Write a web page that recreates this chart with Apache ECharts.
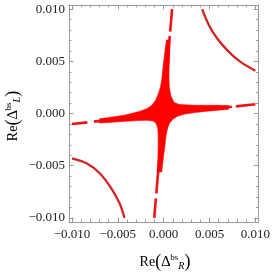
<!DOCTYPE html>
<html><head><meta charset="utf-8">
<script src="https://cdn.jsdelivr.net/npm/echarts@6/dist/echarts.min.js"></script>
<style>html,body{margin:0;padding:0;background:#fff}#c{width:273px;height:273px}</style>
</head><body><div id="c"></div>
<script>
// ---- axis ranges and ticks ----
const xRange = [-0.01032, 0.01032];
const yRange = [-0.0104, 0.0104];
const majorTicks = [-0.01, -0.005, 0, 0.005, 0.01];
const minorTicks = [-0.009, -0.008, -0.007, -0.006, -0.004, -0.003, -0.002, -0.001,
                    0.001, 0.002, 0.003, 0.004, 0.006, 0.007, 0.008, 0.009];

// ---- hyperbola-like curves ----
const curveUpperRight = [[0.0042, 0.0100], [0.00492, 0.00849], [0.00582, 0.00721],
                         [0.00708, 0.00593], [0.00834, 0.00497], [0.0100, 0.0041]];
const curveLowerLeft = [[-0.0100, -0.0043], [-0.00841, -0.00477], [-0.00697, -0.00573],
                        [-0.00571, -0.00717], [-0.00481, -0.00861], [-0.00427, -0.0100]];

// ---- thin arms along the axes (segments, gaps between them) ----
const armHorizontal = [
  [[-0.0100, -0.00101], [-0.00832, -0.00085]],
  [[-0.00760, -0.00078], [-0.00560, -0.00059]],
  [[-0.00525, -0.00056], [0.00744, 0.00064]],
  [[0.00787, 0.00068], [0.0100, 0.00088]]
];
const armVertical = [
  [[0.00092, 0.0100], [0.000709, 0.00784]],
  [[0.000669, 0.00743], [-0.000801, -0.00765]],
  [[-0.000848, -0.00813], [-0.00103, -0.0100]]
];

// ---- central filled star region outline ----
const starOutline = [
  [-0.006973, -0.000508], [-0.005568, -0.000336], [-0.004162, -0.000144], [-0.002649, 0.000192],
  [-0.001784, 0.000479], [-0.001243, 0.000815], [-0.000865, 0.001294], [-0.000541, 0.001965],
  [-0.000324, 0.002637], [-0.000184, 0.003404], [-0.000076, 0.004362], [0.000054, 0.005321],
  [0.000184, 0.006280], [0.000303, 0.007047], [0.000649, 0.007047], [0.000681, 0.006280],
  [0.000649, 0.005321], [0.000595, 0.004362], [0.000573, 0.003404], [0.000627, 0.002445],
  [0.000789, 0.001678], [0.001135, 0.001055], [0.001676, 0.000863], [0.002324, 0.000834],
  [0.003405, 0.000786], [0.004703, 0.000786], [0.006000, 0.000786], [0.007081, 0.000757],
  [0.007081, 0.000403], [0.006000, 0.000316], [0.004703, 0.000221], [0.003405, 0.000096],
  [0.002324, -0.000048], [0.001568, -0.000240], [0.001027, -0.000527], [0.000649, -0.000911],
  [0.000432, -0.001390], [0.000270, -0.002061], [0.000141, -0.003020], [0.000000, -0.003979],
  [-0.000130, -0.004938], [-0.000216, -0.005609], [-0.000703, -0.005609], [-0.000649, -0.004938],
  [-0.000616, -0.003979], [-0.000595, -0.003020], [-0.000595, -0.002061], [-0.000649, -0.001390],
  [-0.000811, -0.000959], [-0.001135, -0.000719], [-0.001784, -0.000652], [-0.002649, -0.000671],
  [-0.004162, -0.000748], [-0.005568, -0.000834], [-0.006973, -0.000911]
];

const frameColor = '#9a9a9a';
const labelFont = 'Liberation Serif';
const fmt = v => (v < 0 ? '\u2212' : '') + Math.abs(v).toFixed(3);

function axis(range, position, ticks, tickLen, showLine, showLabel) {
  return {
    type: 'value', position: position, min: range[0], max: range[1],
    axisLine: { show: showLine, onZero: false, lineStyle: { color: frameColor, width: 1 } },
    axisTick: { show: true, inside: true, length: tickLen, customValues: ticks,
                lineStyle: { color: frameColor, width: 1 } },
    axisLabel: { show: showLabel, customValues: ticks, formatter: fmt,
                 fontFamily: labelFont, fontSize: 13, color: '#222',
                 margin: (position === 'bottom' ? 6 : 4) },
    splitLine: { show: false }
  };
}

const series = [];
armHorizontal.concat(armVertical).forEach(seg => {
  series.push({ type: 'line', data: seg, showSymbol: false, silent: true, z: 2,
                lineStyle: { color: '#ee1414', width: 2.6 } });
});
series.push({
  type: 'custom', data: [[0, 0]], silent: true, z: 3,
  renderItem: (params, api) => ({
    type: 'polygon',
    shape: { points: starOutline.map(p => api.coord(p)) },
    style: { fill: '#ff0000', stroke: '#ff0000', lineWidth: 0.6 }
  })
});
[curveUpperRight, curveLowerLeft].forEach(c => {
  series.push({ type: 'line', data: c, smooth: 0.35, showSymbol: false, silent: true, z: 4,
                lineStyle: { color: '#d42323', width: 2.3 } });
});

const rich = {
  n: { fontFamily: labelFont, fontSize: 14, color: '#222' },
  p: { fontFamily: labelFont, fontSize: 18, color: '#222' },
  d: { fontFamily: labelFont, fontSize: 15, color: '#222' },
  sup: { fontFamily: labelFont, fontSize: 9, color: '#222', verticalAlign: 'top' },
  sub: { fontFamily: labelFont, fontSize: 10, fontStyle: 'italic', color: '#222', verticalAlign: 'bottom' }
};

const chart = echarts.init(document.getElementById('c'), null, { renderer: 'canvas' });
chart.setOption({
  animation: false,
  backgroundColor: '#fff',
  grid: { left: 69, top: 5, width: 191, height: 217, containLabel: false },
  xAxis: [
    axis(xRange, 'bottom', majorTicks, 4.5, true, true),
    axis(xRange, 'bottom', minorTicks, 2.5, false, false),
    axis(xRange, 'top', majorTicks, 4.5, true, false),
    axis(xRange, 'top', minorTicks, 2.5, false, false)
  ],
  yAxis: [
    axis(yRange, 'left', majorTicks, 4.5, true, true),
    axis(yRange, 'left', minorTicks, 2.5, false, false),
    axis(yRange, 'right', majorTicks, 4.5, true, false),
    axis(yRange, 'right', minorTicks, 2.5, false, false)
  ],
  series: series,
  graphic: [
    { type: 'text', x: 165, y: 262, silent: true,
      style: { text: '{n|Re}{p|(}{d|\u2206}{sup|bs}{sub|R}{p|)}', rich: rich, align: 'center', verticalAlign: 'middle' } },
    { type: 'text', x: 13, y: 116, rotation: Math.PI / 2, silent: true,
      style: { text: '{n|Re}{p|(}{d|\u2206}{sup|bs}{sub|L}{p|)}', rich: rich, align: 'center', verticalAlign: 'middle' } }
  ]
});
</script>
</body></html>
